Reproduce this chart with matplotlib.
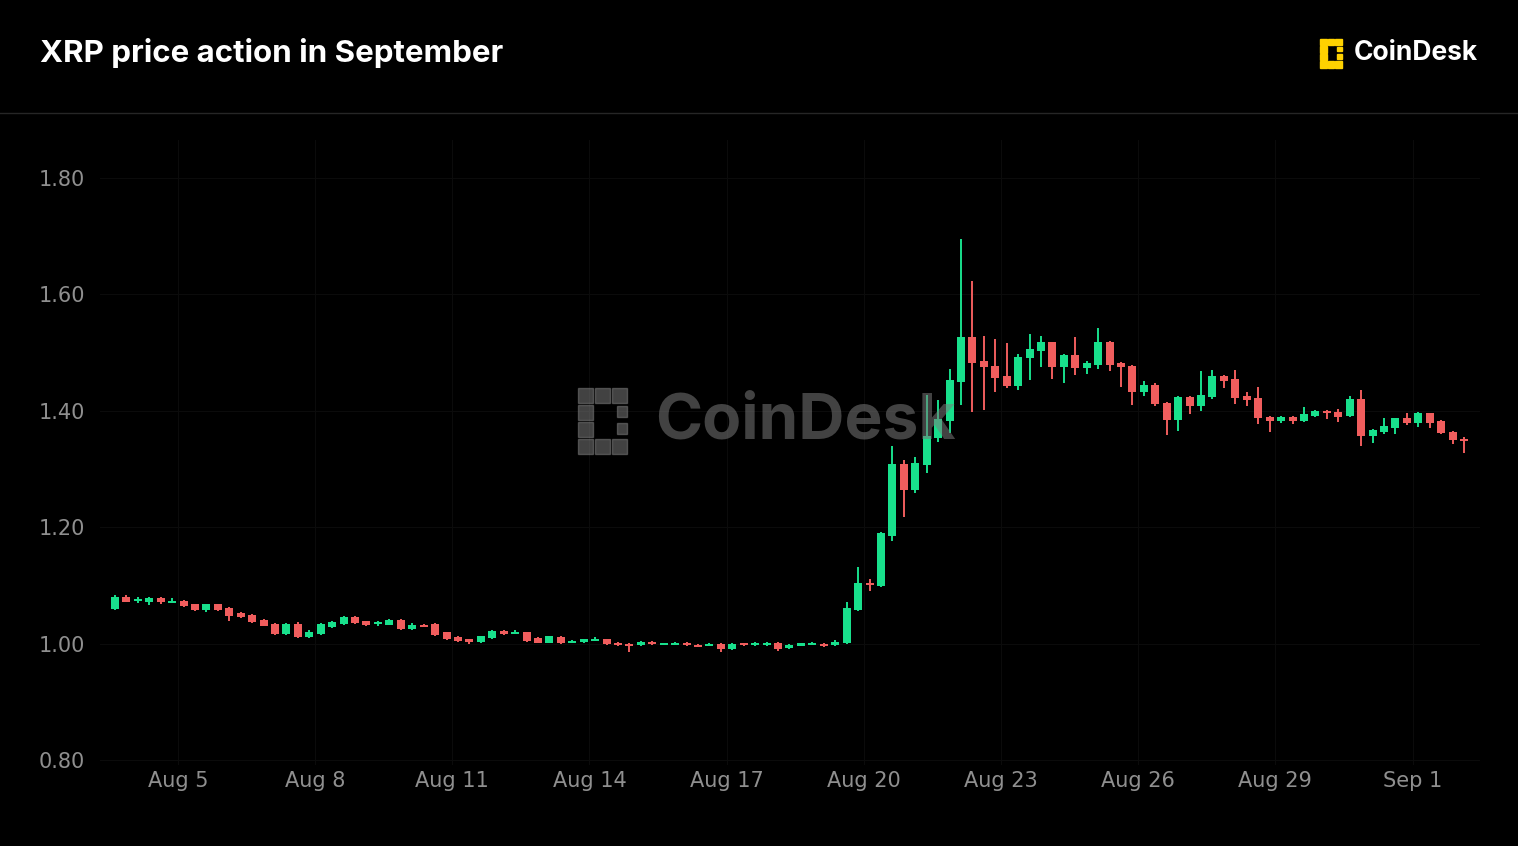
import numpy as np
import matplotlib.pyplot as plt
from matplotlib.patches import Rectangle

# 6-hour XRP candles, Aug 4 -> Sep 2
opens = [1.060, 1.081, 1.075, 1.072, 1.079, 1.071, 1.074, 1.068, 1.058, 1.068,
         1.062, 1.053, 1.050, 1.041, 1.034, 1.017, 1.034, 1.012, 1.017, 1.029,
         1.034, 1.046, 1.039, 1.035, 1.033, 1.041, 1.026, 1.033, 1.034, 1.020,
         1.012, 1.008, 1.003, 1.010, 1.022, 1.019, 1.020, 1.010, 1.002, 1.012,
         1.003, 1.003, 1.007, 1.008, 1.002, 1.000, 0.998, 1.004, 0.999, 1.000,
         1.002, 0.999, 0.998, 1.000, 0.991, 1.001, 0.999, 0.998, 1.002, 0.993,
         0.997, 0.999, 1.000, 0.998, 1.002, 1.058, 1.104, 1.100, 1.185, 1.309,
         1.264, 1.307, 1.354, 1.383, 1.450, 1.527, 1.485, 1.477, 1.460, 1.443,
         1.490, 1.503, 1.518, 1.476, 1.496, 1.474, 1.479, 1.518, 1.482, 1.477,
         1.433, 1.445, 1.414, 1.385, 1.424, 1.409, 1.424, 1.460, 1.455, 1.426,
         1.422, 1.390, 1.383, 1.390, 1.383, 1.391, 1.400, 1.398, 1.391, 1.421,
         1.357, 1.364, 1.371, 1.388, 1.380, 1.397, 1.383, 1.364, 1.352]
closes = [1.081, 1.072, 1.076, 1.079, 1.071, 1.073, 1.065, 1.058, 1.068, 1.058,
          1.048, 1.046, 1.038, 1.031, 1.017, 1.034, 1.012, 1.021, 1.034, 1.038,
          1.046, 1.036, 1.033, 1.037, 1.041, 1.026, 1.033, 1.031, 1.016, 1.009,
          1.005, 1.003, 1.013, 1.022, 1.017, 1.021, 1.005, 1.002, 1.013, 1.002,
          1.005, 1.008, 1.009, 1.000, 0.999, 0.998, 1.004, 1.000, 1.001, 1.002,
          0.998, 0.997, 1.000, 0.991, 1.000, 0.999, 1.000, 1.002, 0.992, 0.998,
          1.001, 1.001, 0.998, 1.004, 1.062, 1.105, 1.102, 1.190, 1.309, 1.264,
          1.311, 1.357, 1.386, 1.453, 1.527, 1.482, 1.475, 1.457, 1.443, 1.493,
          1.506, 1.518, 1.476, 1.496, 1.474, 1.482, 1.518, 1.479, 1.476, 1.433,
          1.445, 1.411, 1.385, 1.424, 1.409, 1.427, 1.460, 1.451, 1.422, 1.419,
          1.388, 1.383, 1.390, 1.383, 1.395, 1.400, 1.396, 1.390, 1.421, 1.357,
          1.367, 1.374, 1.388, 1.380, 1.397, 1.380, 1.362, 1.350, 1.350]
highs = [1.084, 1.084, 1.080, 1.080, 1.080, 1.078, 1.076, 1.069, 1.069, 1.069,
         1.063, 1.054, 1.051, 1.042, 1.036, 1.036, 1.037, 1.023, 1.036, 1.040,
         1.047, 1.047, 1.040, 1.040, 1.042, 1.042, 1.035, 1.034, 1.036, 1.021,
         1.013, 1.009, 1.014, 1.023, 1.023, 1.024, 1.021, 1.011, 1.014, 1.013,
         1.007, 1.009, 1.012, 1.009, 1.003, 1.001, 1.005, 1.005, 1.002, 1.003,
         1.003, 1.000, 1.001, 1.001, 1.002, 1.002, 1.003, 1.003, 1.004, 0.999,
         1.002, 1.003, 1.001, 1.006, 1.072, 1.132, 1.112, 1.192, 1.340, 1.315,
         1.320, 1.427, 1.418, 1.472, 1.695, 1.623, 1.529, 1.524, 1.517, 1.497,
         1.532, 1.528, 1.519, 1.497, 1.526, 1.486, 1.543, 1.520, 1.484, 1.478,
         1.452, 1.447, 1.416, 1.426, 1.425, 1.468, 1.470, 1.461, 1.470, 1.433,
         1.441, 1.391, 1.392, 1.391, 1.406, 1.401, 1.401, 1.404, 1.426, 1.435,
         1.369, 1.387, 1.388, 1.397, 1.398, 1.397, 1.384, 1.365, 1.355]
lows = [1.058, 1.078, 1.070, 1.067, 1.069, 1.070, 1.063, 1.056, 1.054, 1.057,
        1.039, 1.044, 1.036, 1.030, 1.015, 1.015, 1.010, 1.010, 1.015, 1.027,
        1.032, 1.034, 1.031, 1.031, 1.032, 1.024, 1.024, 1.029, 1.014, 1.007,
        1.003, 1.000, 1.001, 1.009, 1.016, 1.018, 1.003, 1.001, 1.001, 1.000,
        1.002, 1.002, 1.006, 0.998, 0.997, 0.986, 0.996, 0.998, 0.999, 0.999,
        0.996, 0.995, 0.997, 0.986, 0.989, 0.996, 0.997, 0.997, 0.988, 0.992,
        0.996, 0.998, 0.995, 0.997, 1.000, 1.056, 1.090, 1.098, 1.177, 1.218,
        1.259, 1.294, 1.346, 1.362, 1.410, 1.398, 1.401, 1.432, 1.439, 1.435,
        1.453, 1.476, 1.455, 1.448, 1.462, 1.463, 1.472, 1.469, 1.441, 1.410,
        1.425, 1.408, 1.359, 1.366, 1.395, 1.400, 1.421, 1.440, 1.412, 1.408,
        1.377, 1.363, 1.380, 1.378, 1.381, 1.389, 1.386, 1.381, 1.389, 1.340,
        1.344, 1.360, 1.360, 1.376, 1.373, 1.370, 1.360, 1.343, 1.328]
tick_pos = [5.5, 17.5, 29.5, 41.5, 53.5, 65.5, 77.5, 89.5, 101.5, 113.5]
tick_labels = ['Aug 5', 'Aug 8', 'Aug 11', 'Aug 14', 'Aug 17', 'Aug 20',
               'Aug 23', 'Aug 26', 'Aug 29', 'Sep 1']
y_ticks = [0.80, 1.00, 1.20, 1.40, 1.60, 1.80]

GREEN = '#18e08c'
RED = '#f05d5d'

o, c, h, l = map(np.array, (opens, closes, highs, lows))
x = np.arange(len(o))
col = np.where(c >= o, GREEN, RED)

fig = plt.figure(figsize=(15.18, 8.46), dpi=100, facecolor='black')
ax = fig.add_axes([100 / 1518, 81 / 846, 1380 / 1518, 625 / 846], facecolor='black')

ax.vlines(x, l, h, colors=col, linewidth=1.4, zorder=2)
bottom = np.minimum(o, c)
height = np.maximum(np.abs(c - o), 0.0035)
ax.bar(x, height, 0.7, bottom=bottom - np.where(np.abs(c - o) < 0.0035, 0.0017, 0),
       color=col, zorder=3)

ax.set_xlim(-1.31, 119.4)
ax.set_ylim(0.792, 1.865)
ax.set_xticks(tick_pos)
ax.set_xticklabels(tick_labels)
ax.set_yticks(y_ticks)
ax.set_yticklabels([f'{v:.2f}' for v in y_ticks])
ax.tick_params(colors='#8f8f8f', labelsize=15, length=0)
ax.tick_params(axis='x', pad=4)
ax.tick_params(axis='y', pad=11)
ax.grid(True, color='#0b0b0b', linewidth=0.8)
ax.set_axisbelow(True)
for s in ax.spines.values():
    s.set_visible(False)

# header
fig.text(40 / 1518, 1 - 53 / 846, 'XRP price action in September', color='white',
         fontsize=22.5, fontweight='bold', va='center', family='Inter')
fig.add_artist(plt.Line2D([0, 1], [1 - 113 / 846] * 2, color='#262626', lw=1))
fig.text(1478 / 1518, 1 - 53 / 846, 'CoinDesk', color='white', fontsize=19,
         fontweight='bold', va='center', ha='right', family='Inter')


def logo(cx, cy, s, color, alpha=1.0):
    # simplified CoinDesk mark: bracket of squares plus two dots
    pts = [(0, 0), (1, 0), (2, 0), (0, 1), (0, 2), (0, 3), (1, 3), (2, 3)]
    for px, py in pts:
        fig.add_artist(Rectangle(((cx + px * s) / 1518, 1 - (cy + py * s + s) / 846),
                                 s * 0.9 / 1518, s * 0.9 / 846, color=color,
                                 alpha=alpha, transform=fig.transFigure))
    for py in (1, 2):
        fig.add_artist(Rectangle(((cx + 2.3 * s) / 1518, 1 - (cy + py * s + s * 0.8) / 846),
                                 s * 0.6 / 1518, s * 0.6 / 846, color=color,
                                 alpha=alpha, transform=fig.transFigure))


logo(1320, 38, 7.5, '#ffd200')
logo(578, 386, 17, '#7a7a7a', alpha=0.55)
fig.text(655 / 1518, 1 - 422 / 846, 'CoinDesk', color='#7a7a7a', alpha=0.55,
         fontsize=46, fontweight='bold', va='center', family='Inter')

fig.savefig('out.png', dpi=100, facecolor='black')
